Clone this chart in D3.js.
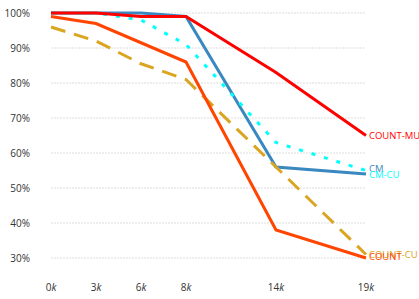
<!DOCTYPE html>
<html>
<head>
<meta charset="utf-8">
<script src="https://cdn.jsdelivr.net/npm/d3@7"></script>
<style>
  body { margin: 0; background: #fff; }
  text { font-family: "Open Sans", sans-serif; }
</style>
</head>
<body>
<div id="chart"></div>
<script>
// x categories (thousands) and their slot on the axis
var xLabels = ["0", "3", "6", "8", "14", "19"];
var xSlots = [0, 1, 2, 3, 5, 7];
var yTicks = [30, 40, 50, 60, 70, 80, 90, 100];

var seriesNames = ["COUNT-MU", "CM", "CM-CU", "COUNT-CU", "COUNT"];
var countMU = [100, 100, 99, 99, 83, 65];
var cm = [100, 100, 100, 99, 56, 54];
var cmCU = [100, 100, 98, 91, 63, 55];
var countCU = [96, 92, 85.5, 81, 56, 31];
var count = [99, 97, 91.5, 86, 38, 30];

var width = 419, height = 299;

var svg = d3.select("#chart").append("svg")
  .attr("width", width)
  .attr("height", height);

var x = d3.scaleLinear().domain([0, 7]).range([51, 366]);
var y = d3.scaleLinear().domain([30, 100]).range([258, 13]);

// grid lines
svg.append("g").selectAll("line")
  .data(yTicks)
  .enter().append("line")
  .attr("x1", x(0)).attr("x2", x(7))
  .attr("y1", d => y(d)).attr("y2", d => y(d))
  .attr("stroke", "#ddd")
  .attr("stroke-width", 1)
  .attr("stroke-dasharray", "2,1");

// y labels
svg.append("g").selectAll("text")
  .data(yTicks)
  .enter().append("text")
  .attr("x", 30)
  .attr("y", d => y(d))
  .attr("dy", "0.35em")
  .attr("text-anchor", "end")
  .attr("font-size", 10)
  .attr("fill", "#333")
  .text(d => d + "%");

// x labels
var xt = svg.append("g").selectAll("text")
  .data(xLabels)
  .enter().append("text")
  .attr("x", (d, i) => x(xSlots[i]))
  .attr("y", 287)
  .attr("dy", "0.35em")
  .attr("text-anchor", "middle")
  .attr("font-size", 10)
  .attr("fill", "#333");
xt.append("tspan").text(d => d);
xt.append("tspan").attr("font-style", "italic").text("k");

// drawn in this order (red sits on top of the blue line)
var series = [
  { name: seriesNames[1], values: cm, color: "#3a88c0", dash: null, labelDy: -5 },
  { name: seriesNames[2], values: cmCU, color: "#00ffff", dash: "4,9", labelDy: 4 },
  { name: seriesNames[3], values: countCU, color: "#daa520", dash: "15,9", labelDy: 0 },
  { name: seriesNames[4], values: count, color: "#ff4500", dash: null, labelDy: -1 },
  { name: seriesNames[0], values: countMU, color: "#ff0000", dash: null, labelDy: 0 }
];

var line = d3.line()
  .x((d, i) => x(xSlots[i]))
  .y(d => y(d));

svg.append("g").selectAll("path")
  .data(series)
  .enter().append("path")
  .attr("d", d => line(d.values))
  .attr("fill", "none")
  .attr("stroke", d => d.color)
  .attr("stroke-width", 3)
  .attr("stroke-dasharray", d => d.dash);

// end labels
svg.append("g").selectAll("text")
  .data(series)
  .enter().append("text")
  .attr("x", x(7) + 3)
  .attr("y", d => y(d.values[d.values.length - 1]) + d.labelDy)
  .attr("dy", "0.35em")
  .attr("font-family", "Liberation Sans, sans-serif")
  .attr("font-size", 9.5)
  .attr("fill", d => d.color)
  .text(d => d.name);
</script>
</body>
</html>
